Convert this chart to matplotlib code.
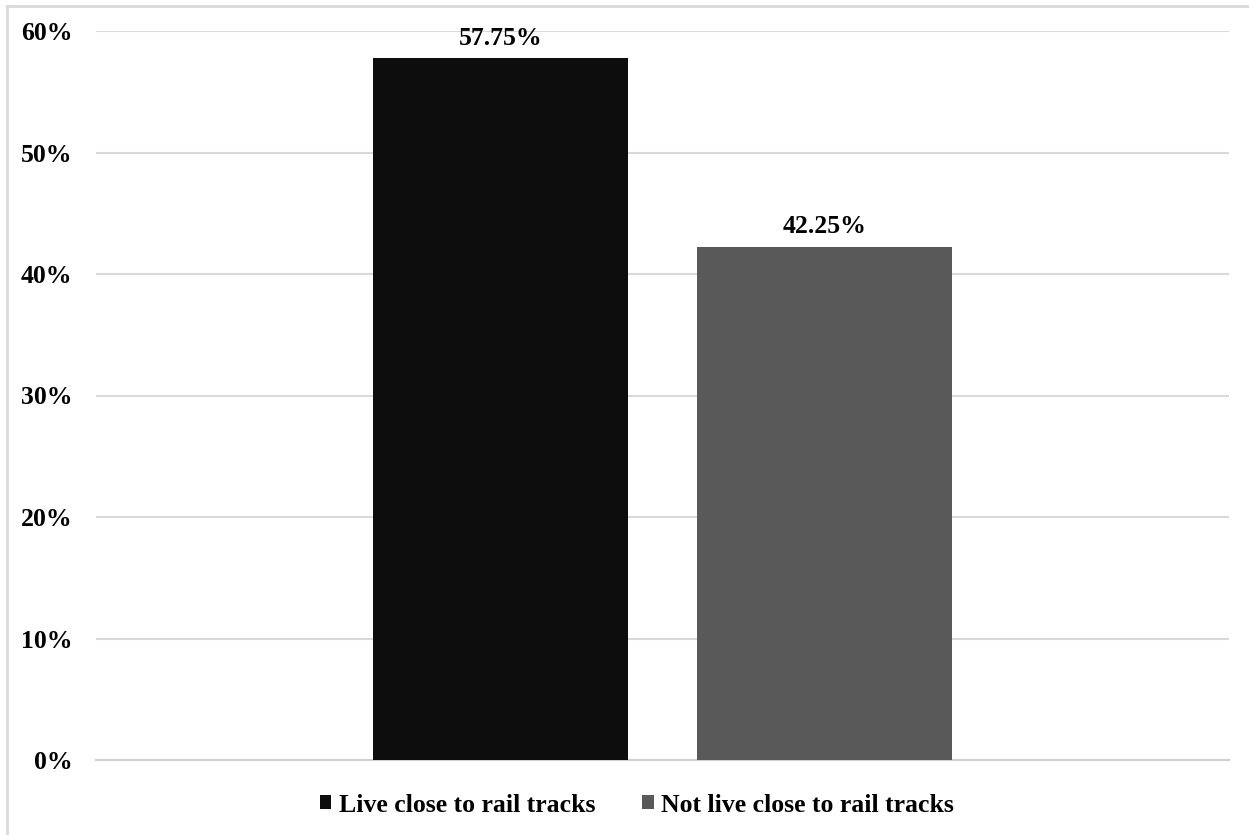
import numpy as np
import matplotlib
matplotlib.use('Agg')
import matplotlib.pyplot as plt
from matplotlib.ticker import PercentFormatter

series = ['Live close to rail tracks', 'Not live close to rail tracks']
values = [57.75, 42.25]
value_labels = ['57.75%', '42.25%']
colors = ['#0d0d0d', '#595959']
yticks = [0, 10, 20, 30, 40, 50, 60]

plt.rcParams['font.family'] = ['Liberation Serif', 'DejaVu Serif']
plt.rcParams['font.weight'] = 'bold'

fig = plt.figure(figsize=(12.49, 8.35), dpi=100)
ax = fig.add_axes([96/1249, 1-760/835, (1229-96)/1249, (760-31)/835])

# single category, two series side by side
bar_w = 255/1133
gap = 69/1133
pos = [0.5 - (bar_w+gap)/2, 0.5 + (bar_w+gap)/2]

for i in range(len(series)):
	ax.bar(pos[i], values[i], width=bar_w, color=colors[i], label=series[i], zorder=3)
	ax.text(pos[i], values[i] + 1.1, value_labels[i], ha='center', va='baseline',
		fontsize=18.5, fontweight='bold')

ax.set_xlim(0, 1)
ax.set_ylim(0, 60)
ax.set_yticks(yticks)
ax.yaxis.set_major_formatter(PercentFormatter(decimals=0))
ax.set_xticks([])
ax.tick_params(axis='y', length=0, pad=17, labelsize=18.5)
for t in ax.get_yticklabels():
	t.set_fontweight('bold')
ax.grid(axis='y', color='#d9d9d9', linewidth=1.5, zorder=0)
for s in ['top', 'right', 'left']:
	ax.spines[s].set_visible(False)
ax.spines['bottom'].set_color('#d0d0d0')
ax.spines['bottom'].set_linewidth(1.5)

leg = fig.legend(loc='center', bbox_to_anchor=(637/1249, 1-805/835), ncol=2,
	frameon=False, prop={'weight': 'bold', 'size': 18.5},
	handlelength=0.45, handleheight=0.45, handletextpad=0.3, columnspacing=1.8)

# outer chart border
fig.add_artist(plt.Line2D([7/1249, 7/1249], [0, 1-6/835], color='#d9d9d9', linewidth=2))
fig.add_artist(plt.Line2D([7/1249, 1], [1-6/835, 1-6/835], color='#d9d9d9', linewidth=2))

plt.savefig('out.png', dpi=100)
